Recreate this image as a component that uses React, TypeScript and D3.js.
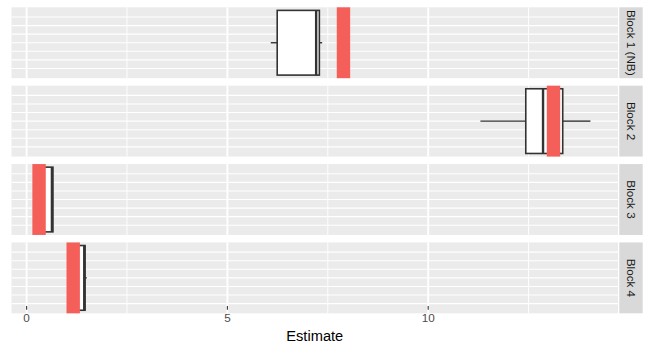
import React from "react";
import * as d3 from "d3";

const blocks = ["Block 1 (NB)", "Block 2", "Block 3", "Block 4"];
const whiskerLow = [6.08, 11.3, 0.33, 1.18];
const q1 = [6.24, 12.43, 0.36, 1.2];
const median = [7.21, 12.86, 0.63, 1.435];
const q3 = [7.29, 13.35, 0.655, 1.455];
const whiskerHigh = [7.36, 14.04, 0.66, 1.5];
const estimate = [7.89, 13.12, 0.31, 1.16];

const xMajor = [0, 5, 10];
const xMinor = [2.5, 7.5, 12.5];
const xTickLabels = ["0", "5", "10"];
const yLines = [0, 1, 2, 3, 4, 5, 6];
const xTitle = "Estimate";

const W = 650;
const H = 350;
const panelLeft = 11.5;
const panelRight = 618;
const panelTop = 7.3;
const panelBottom = 306;
const gap = 7.33;
const stripW = 23.4;
const stripGap = 1.3;

export default function App() {
  const all = [...whiskerLow, ...whiskerHigh, ...estimate, ...q1, ...q3];
  const mn = d3.min(all) as number;
  const mx = d3.max(all) as number;
  const ex = (mx - mn) * 0.05;
  const x = d3.scaleLinear().domain([mn - ex, mx + ex]).range([panelLeft, panelRight]);

  const n = blocks.length;
  const ph = (panelBottom - panelTop - gap * (n - 1)) / n;
  const band = d3
    .scaleBand<string>()
    .domain(blocks)
    .range([panelTop, panelBottom + gap])
    .paddingInner(gap / (ph + gap))
    .paddingOuter(0);
  const bw = band.bandwidth();

  const font = "'Liberation Sans', Arial, Helvetica, sans-serif";

  return (
    <svg
      width={W}
      height={H}
      style={{ position: "absolute", left: 0, top: 0 }}
      fontFamily={font}
    >
      <rect x={0} y={0} width={W} height={H} fill="#ffffff" />
      {blocks.map((b, i) => {
        const top = band(b) as number;
        const y = d3.scaleLinear().domain([-1.13, 7.13]).range([top + bw, top]);
        const yc = y(3);
        const boxHalf = bw * 0.4565;
        return (
          <g key={b}>
            <rect x={panelLeft} y={top} width={panelRight - panelLeft} height={bw} fill="#EBEBEB" />
            {yLines.map((v) => (
              <line key={"h" + v} x1={panelLeft} x2={panelRight} y1={y(v)} y2={y(v)} stroke="#ffffff" strokeWidth={1.1} />
            ))}
            {xMinor.map((v) => (
              <line key={"mi" + v} x1={x(v)} x2={x(v)} y1={top} y2={top + bw} stroke="#ffffff" strokeWidth={0.95} />
            ))}
            {xMajor.map((v) => (
              <line key={"ma" + v} x1={x(v)} x2={x(v)} y1={top} y2={top + bw} stroke="#ffffff" strokeWidth={1.9} />
            ))}
            {/* whiskers */}
            <line x1={x(whiskerLow[i])} x2={x(q1[i])} y1={yc} y2={yc} stroke="#333333" strokeWidth={1.4} />
            <line x1={x(q3[i])} x2={x(whiskerHigh[i])} y1={yc} y2={yc} stroke="#333333" strokeWidth={1.4} />
            {/* box */}
            <rect
              x={x(q1[i])}
              y={yc - boxHalf}
              width={x(q3[i]) - x(q1[i])}
              height={boxHalf * 2}
              fill="#ffffff"
              stroke="#333333"
              strokeWidth={1.6}
            />
            <line x1={x(median[i])} x2={x(median[i])} y1={yc - boxHalf} y2={yc + boxHalf} stroke="#333333" strokeWidth={2.4} />
            {/* estimate */}
            <rect x={x(estimate[i]) - 6.7} y={top} width={13.4} height={bw} fill="#F55F5A" />
            {/* strip */}
            <rect x={panelRight + stripGap} y={top} width={stripW} height={bw} fill="#D9D9D9" />
            <text
              transform={`translate(${panelRight + stripGap + stripW / 2},${top + bw / 2}) rotate(90)`}
              textAnchor="middle"
              dominantBaseline="central"
              fontSize={11.7}
              fill="#1A1A1A"
            >
              {b}
            </text>
          </g>
        );
      })}
      {xMajor.map((v, i) => (
        <g key={"t" + v}>
          <line x1={x(v)} x2={x(v)} y1={panelBottom} y2={panelBottom + 3.7} stroke="#333333" strokeWidth={1.07} />
          <text x={x(v)} y={322} textAnchor="middle" fontSize={11.7} fill="#4D4D4D">
            {xTickLabels[i]}
          </text>
        </g>
      ))}
      <text x={(panelLeft + panelRight) / 2} y={340.5} textAnchor="middle" fontSize={14.67} fill="#000000">
        {xTitle}
      </text>
    </svg>
  );
}
